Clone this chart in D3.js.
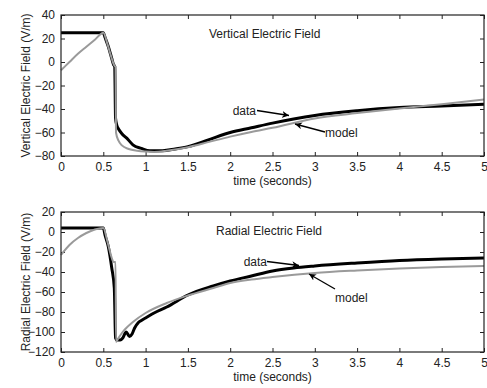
<!DOCTYPE html>
<html>
<head>
<meta charset="utf-8">
<script src="https://cdn.jsdelivr.net/npm/d3@7"></script>
<style>
  body { margin: 0; background: #fff; }
  svg { font-family: "Liberation Sans", Arial, sans-serif; }
</style>
</head>
<body>
<div id="chart"></div>
<script>
// ---- data ----
const timeTicks = [0, 0.5, 1, 1.5, 2, 2.5, 3, 3.5, 4, 4.5, 5];
const vertTicks = [40, 20, 0, -20, -40, -60, -80];
const radTicks = [20, 0, -20, -40, -60, -80, -100, -120];

// vertical field, measured
const vertDataTime = [0, 0.5, 0.52, 0.56, 0.6, 0.62, 0.635, 0.645, 0.66, 0.68, 0.72, 0.78, 0.85, 0.95, 1.05, 1.2, 1.35, 1.5, 1.75, 2, 2.25, 2.5, 2.75, 3, 3.5, 4, 4.5, 5];
const vertData = [25, 25, 21, 13, 3, -2, -4, -48, -54, -57, -61, -65, -70.5, -73.5, -75.5, -75.5, -74, -72, -66, -60, -56, -52, -48.5, -45.5, -41.5, -38.8, -37.5, -36];
// vertical field, model
const vertModelTime = [0, 0.1, 0.2, 0.3, 0.4, 0.5, 0.55, 0.6, 0.63, 0.645, 0.65, 0.68, 0.72, 0.8, 0.9, 1.0, 1.1, 1.25, 1.5, 1.75, 2, 2.25, 2.5, 3, 3.5, 4, 4.5, 5];
const vertModel = [-7, 0, 7, 13, 19, 25, 15, 3, -3, -4, -60, -67, -71, -74, -75.5, -76.2, -76.5, -75.5, -72.5, -68, -63.5, -59.5, -56, -48, -43.5, -39.5, -36, -32];

// radial field, measured
const radDataTime = [0, 0.5, 0.52, 0.56, 0.6, 0.63, 0.645, 0.66, 0.7, 0.73, 0.77, 0.81, 0.84, 0.87, 0.91, 0.95, 1.0, 1.1, 1.25, 1.5, 1.8, 2, 2.25, 2.5, 2.75, 3, 3.5, 4, 4.5, 5];
const radData = [4, 4, -3, -15, -36, -56, -106, -108, -108, -106, -100, -104.5, -102, -96, -91, -88.5, -86, -81, -75, -63, -54, -49, -44, -39, -36, -34, -31, -28.5, -27, -26];
// radial field, model
const radModelTime = [0, 0.1, 0.2, 0.3, 0.4, 0.5, 0.55, 0.6, 0.62, 0.645, 0.65, 0.68, 0.72, 0.76, 0.85, 1.0, 1.25, 1.5, 1.8, 2, 2.25, 2.5, 3, 3.5, 4, 4.5, 5];
const radModel = [-23, -13, -6, -1, 2.5, 4, -10, -26, -30, -30, -110, -106, -101, -97, -90, -81, -71, -63.5, -56, -51, -47.5, -45, -41, -38.5, -36.5, -35, -34];

const width = 487, height = 388;
const svg = d3.select("#chart").append("svg")
  .attr("width", width)
  .attr("height", height);

// arrow head for the annotations
svg.append("defs").append("marker")
  .attr("id", "arrow")
  .attr("viewBox", "0 0 10 10")
  .attr("refX", 10).attr("refY", 5)
  .attr("markerWidth", 7).attr("markerHeight", 7)
  .attr("markerUnits", "userSpaceOnUse")
  .attr("orient", "auto")
  .append("path")
  .attr("d", "M0,0 L10,5 L0,10 L3,5 Z")
  .attr("fill", "#000");

const zip = (t, v) => t.map((d, i) => [d, v[i]]);

/****** draws one panel: box, ticks, labels and both curves ******/
function drawPanel(opt) {
  const x = d3.scaleLinear().domain([0, 5]).range([61, 484]);
  const y = d3.scaleLinear().domain(opt.domain).range([opt.bottom, opt.top]);
  const g = svg.append("g");

  // x axis at bottom, ticks inside
  g.append("g")
    .attr("transform", "translate(0," + opt.bottom + ")")
    .call(d3.axisBottom(x).tickValues(timeTicks).tickFormat(d3.format("")).tickSizeInner(-4).tickSizeOuter(0).tickPadding(6))
    .call(a => a.select(".domain").remove());
  // x ticks on top
  g.append("g")
    .attr("transform", "translate(0," + opt.top + ")")
    .call(d3.axisTop(x).tickValues(timeTicks).tickFormat("").tickSizeInner(-4).tickSizeOuter(0))
    .call(a => a.select(".domain").remove());
  // y axis left
  g.append("g")
    .attr("transform", "translate(61,0)")
    .call(d3.axisLeft(y).tickValues(opt.ticks).tickFormat(d => d < 0 ? "\u2212" + Math.abs(d) : d).tickSizeInner(-4).tickSizeOuter(0).tickPadding(6))
    .call(a => a.select(".domain").remove());
  // y ticks right
  g.append("g")
    .attr("transform", "translate(484,0)")
    .call(d3.axisRight(y).tickValues(opt.ticks).tickFormat("").tickSizeInner(-4).tickSizeOuter(0))
    .call(a => a.select(".domain").remove());

  g.selectAll(".tick text").attr("font-size", 12).attr("fill", "#222")
    .attr("font-family", "Liberation Sans, Arial, sans-serif");
  g.selectAll(".tick line").attr("stroke", "#222");

  const line = d3.line().x(d => x(d[0])).y(d => y(d[1])).curve(d3.curveMonotoneX);

  g.append("path").datum(zip(opt.dataTime, opt.data))
    .attr("d", line).attr("fill", "none")
    .attr("stroke", "#000").attr("stroke-width", 3);
  g.append("path").datum(zip(opt.modelTime, opt.model))
    .attr("d", line).attr("fill", "none")
    .attr("stroke", "#9a9a9a").attr("stroke-width", 2);

  // box
  g.append("rect")
    .attr("x", 61).attr("y", opt.top)
    .attr("width", 423).attr("height", opt.bottom - opt.top)
    .attr("fill", "none").attr("stroke", "#222").attr("stroke-width", 1.2);

  // labels
  g.append("text")
    .attr("x", 272.5).attr("y", opt.bottom + 29)
    .attr("text-anchor", "middle").attr("font-size", 12).attr("fill", "#222")
    .text("time (seconds)");
  g.append("text")
    .attr("transform", "translate(26," + ((opt.top + opt.bottom) / 2) + ") rotate(-90)")
    .attr("text-anchor", "middle").attr("dy", "0.35em").attr("font-size", 12).attr("fill", "#222")
    .text(opt.ylabel);
  g.append("text")
    .attr("x", opt.titleX).attr("y", opt.top + 23)
    .attr("font-size", 12).attr("fill", "#222")
    .text(opt.title);

  // annotations
  opt.notes.forEach(n => {
    g.append("text").attr("x", n.tx).attr("y", n.ty).attr("dy", "0.35em")
      .attr("text-anchor", n.anchor).attr("font-size", 12).attr("fill", "#222")
      .text(n.label);
    g.append("line")
      .attr("x1", n.x1).attr("y1", n.y1).attr("x2", n.x2).attr("y2", n.y2)
      .attr("stroke", "#000").attr("stroke-width", 1.3)
      .attr("marker-end", "url(#arrow)");
  });
}

drawPanel({
  top: 15, bottom: 156, domain: [-80, 40], ticks: vertTicks,
  dataTime: vertDataTime, data: vertData, modelTime: vertModelTime, model: vertModel,
  ylabel: "Vertical Electric Field (V/m)", title: "Vertical Electric Field", titleX: 209,
  notes: [
    {label: "data", tx: 256, ty: 110.5, anchor: "end", x1: 257, y1: 110.5, x2: 289, y2: 115.5},
    {label: "model", tx: 325, ty: 133, anchor: "start", x1: 325, y1: 132, x2: 295, y2: 124}
  ]
});

drawPanel({
  top: 212, bottom: 352, domain: [-120, 20], ticks: radTicks,
  dataTime: radDataTime, data: radData, modelTime: radModelTime, model: radModel,
  ylabel: "Radial Electric Field (V/m)", title: "Radial Electric Field", titleX: 216,
  notes: [
    {label: "data", tx: 267, ty: 261.5, anchor: "end", x1: 267, y1: 261.5, x2: 299, y2: 265.5},
    {label: "model", tx: 335, ty: 298, anchor: "start", x1: 335, y1: 289, x2: 309, y2: 274}
  ]
});
</script>
</body>
</html>
